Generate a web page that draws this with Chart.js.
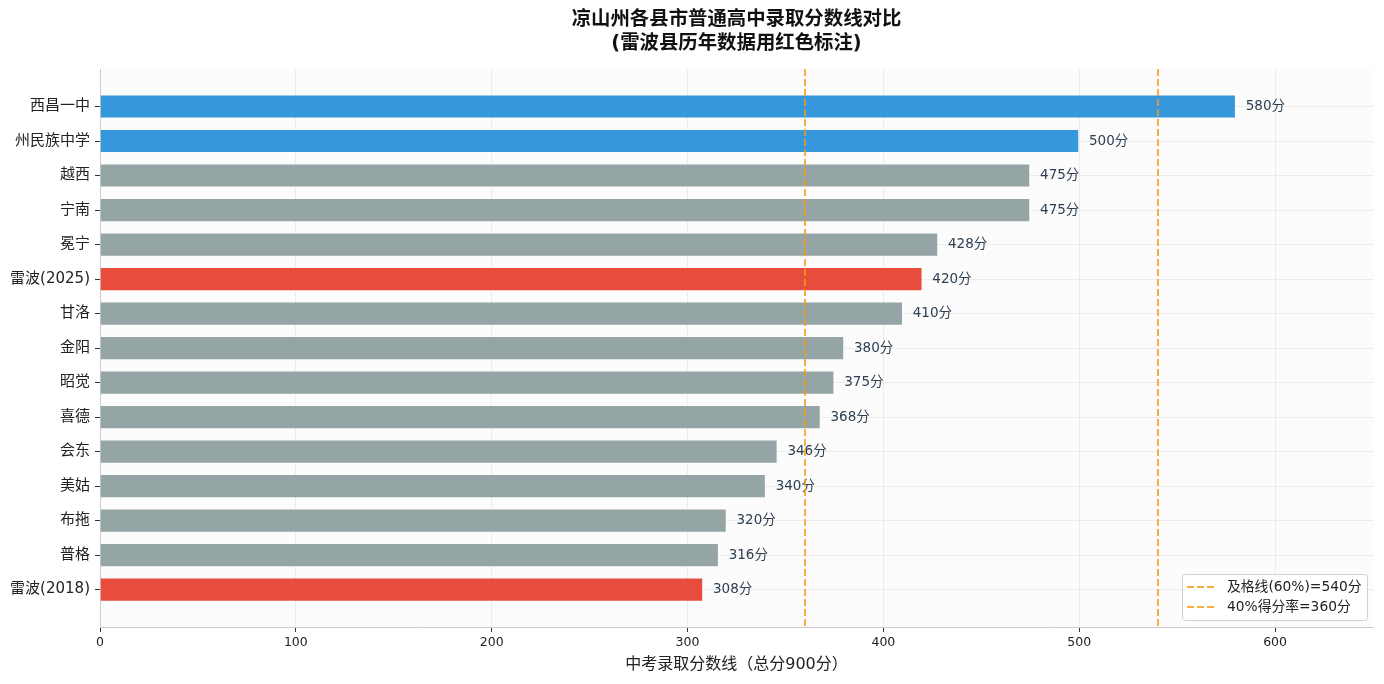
<!DOCTYPE html>
<html>
<head>
<meta charset="utf-8">
<script src="https://cdn.jsdelivr.net/npm/chart.js@4"></script>
<style>
  body { margin: 0; background: #fff; }
  #wrap { width: 1384px; height: 684px; }
</style>
</head>
<body>
<div id="wrap"><canvas id="myChart"></canvas></div>
<script>
var categories = ['西昌一中', '州民族中学', '越西', '宁南', '冕宁', '雷波(2025)', '甘洛', '金阳', '昭觉', '喜德', '会东', '美姑', '布拖', '普格', '雷波(2018)'];
var scores = [580, 500, 475, 475, 428, 420, 410, 380, 375, 368, 346, 340, 320, 316, 308];
var barColors = ['#3498db', '#3498db', '#95a5a6', '#95a5a6', '#95a5a6', '#e74c3c', '#95a5a6', '#95a5a6', '#95a5a6', '#95a5a6', '#95a5a6', '#95a5a6', '#95a5a6', '#95a5a6', '#e74c3c'];
var xTicks = [0, 100, 200, 300, 400, 500, 600];
var refLines = [540, 360];
var refLabels = ['及格线(60%)=540分', '40%得分率=360分'];

var FONT = "'DejaVu Sans', 'Noto Sans CJK SC', sans-serif";
var DASH = [7, 3];
var REF_COLOR = 'rgba(243,156,18,0.8)';

var ctx = document.getElementById('myChart').getContext('2d');

// light plot background
var bgPlugin = {
  id: 'bg',
  beforeDraw: function (chart) {
    var a = chart.chartArea, c = chart.ctx;
    c.save();
    c.fillStyle = '#fcfcfc';
    c.fillRect(a.left, a.top, a.right - a.left, a.bottom - a.top);
    c.restore();
  }
};

// value labels, dashed reference lines, legend box
var extras = {
  id: 'extras',
  afterDatasetsDraw: function (chart) {
    var c = chart.ctx, a = chart.chartArea;
    var xs = chart.scales.x;
    var meta = chart.getDatasetMeta(0);
    c.save();
    c.font = '13.5px ' + FONT;
    c.fillStyle = '#2c3e50';
    c.textBaseline = 'middle';
    c.textAlign = 'left';
    meta.data.forEach(function (bar, i) {
      c.fillText(scores[i] + '分', xs.getPixelForValue(scores[i] + 5), bar.y);
    });
    // reference lines
    c.strokeStyle = REF_COLOR;
    c.lineWidth = 2;
    c.setLineDash(DASH);
    refLines.forEach(function (v) {
      var px = Math.round(xs.getPixelForValue(v));
      c.beginPath();
      c.moveTo(px, a.top);
      c.lineTo(px, a.bottom);
      c.stroke();
    });
    c.restore();
  },
  afterDraw: function (chart) {
    var c = chart.ctx, a = chart.chartArea;
    var w = 185, h = 46;
    var x0 = a.right - 191, y0 = a.bottom - 53;
    c.save();
    c.fillStyle = 'rgba(255,255,255,0.85)';
    c.strokeStyle = '#d0d0d0';
    c.lineWidth = 1;
    c.beginPath();
    c.roundRect(x0 + 0.5, y0 + 0.5, w, h, 3);
    c.fill();
    c.stroke();
    c.font = '13.8px ' + FONT;
    c.textBaseline = 'middle';
    refLabels.forEach(function (t, i) {
      var yy = y0 + 13 + i * 20;
      c.strokeStyle = REF_COLOR;
      c.lineWidth = 2;
      c.setLineDash(DASH);
      c.beginPath();
      c.moveTo(x0 + 5, Math.round(yy));
      c.lineTo(x0 + 33, Math.round(yy));
      c.stroke();
      c.setLineDash([]);
      c.fillStyle = '#222';
      c.fillText(t, x0 + 45, yy);
    });
    c.restore();
  }
};

var myChart = new Chart(ctx, {
  type: 'bar',
  data: {
    datasets: [{
      label: '录取分数线',
      data: scores.map(function (v, i) { return { x: v, y: i }; }),
      backgroundColor: barColors,
      borderColor: 'rgba(255,255,255,0.25)',
      borderWidth: 1,
      barPercentage: 0.7,
      categoryPercentage: 1
    }]
  },
  options: {
    indexAxis: 'y',
    responsive: true,
    maintainAspectRatio: false,
    animation: false,
    layout: { padding: { left: 0, right: 11, top: 0, bottom: 0 } },
    plugins: {
      legend: { display: false },
      tooltip: { enabled: false },
      title: {
        display: true,
        fullSize: false,
        text: ['凉山州各县市普通高中录取分数线对比', '(雷波县历年数据用红色标注)'],
        color: '#111',
        font: { family: FONT, size: 19.4, weight: 'bold', lineHeight: 1.24 },
        padding: { top: 8, bottom: 13 }
      }
    },
    scales: {
      x: {
        type: 'linear',
        min: 0,
        max: 650,
        z: 1,
        afterBuildTicks: function (s) { s.ticks = xTicks.map(function (v) { return { value: v }; }); },
        afterFit: function (s) { s.height = 57; },
        grid: { color: 'rgba(225,225,225,0.6)', tickColor: '#333', tickLength: 5 },
        border: { color: '#cccccc' },
        ticks: { color: '#222', font: { family: FONT, size: 12.5 }, padding: 3 },
        title: {
          display: true,
          text: '中考录取分数线（总分900分）',
          color: '#222',
          font: { family: FONT, size: 16 },
          padding: { top: 2, bottom: 10 }
        }
      },
      y: {
        type: 'linear',
        reverse: true,
        offset: false,
        min: -1.085,
        max: 15.085,
        z: 1,
        afterBuildTicks: function (s) { s.ticks = categories.map(function (c, i) { return { value: i }; }); },
        afterFit: function (s) { s.width = 100; },
        grid: { offset: false, color: 'rgba(225,225,225,0.6)', tickColor: '#333', tickLength: 5 },
        border: { color: '#cccccc' },
        ticks: {
          color: '#222',
          font: { family: FONT, size: 15 },
          padding: 5,
          callback: function (v) { return categories[v]; }
        }
      }
    }
  },
  plugins: [bgPlugin, extras]
});
</script>
</body>
</html>
